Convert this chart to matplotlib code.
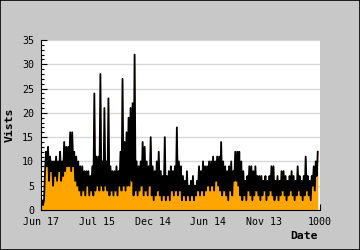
import numpy as np
import matplotlib

matplotlib.use("Agg")

from matplotlib import pyplot
from matplotlib.patches import Rectangle


# Daily visits as (low, high) pairs, about two pixels apart.
visits_early = [
    1, 2, 1, 2, 8, 12, 9, 13, 6, 11, 8, 10, 5, 10, 7, 11, 6, 10, 8, 12,
    6, 10, 7, 14, 8, 13, 9, 13, 9, 16, 8, 16, 9, 12, 6, 11, 5, 10, 4, 9,
    3, 9, 4, 8, 3, 8, 5, 8, 3, 7, 4, 9, 3, 24, 4, 11, 5, 11, 4, 28,
    5, 10, 4, 21, 5, 10, 4, 23, 3, 9, 4, 8, 3, 8, 4, 9, 3, 8, 5, 12,
]
visits_middle = [
    4, 27, 5, 14, 4, 16, 5, 19, 5, 21, 6, 22, 3, 32, 4, 10, 3, 9, 4, 10,
    5, 14, 3, 13, 4, 10, 3, 9, 5, 15, 3, 9, 2, 8, 3, 10, 4, 12, 3, 8,
    2, 7, 3, 15, 2, 7, 3, 8, 2, 9, 4, 8, 3, 9, 4, 17, 3, 10, 4, 9,
    2, 7, 3, 6, 2, 8, 3, 5, 2, 6, 3, 7, 2, 5, 3, 6, 4, 9, 3, 8,
    4, 10, 3, 9, 4, 9, 5, 10, 4, 10, 5, 11, 4, 10, 6, 11, 5, 11, 4, 14,
]
visits_late = [
    3, 10, 4, 9, 3, 8, 2, 9, 4, 10, 3, 8, 6, 12, 6, 12, 5, 12, 3, 10,
    2, 8, 3, 6, 2, 7, 4, 9, 3, 9, 2, 8, 3, 9, 4, 7, 3, 7, 2, 7,
    3, 6, 4, 7, 2, 6, 3, 7, 4, 9, 3, 9, 2, 6, 3, 7, 2, 6, 3, 8,
    4, 8, 3, 7, 2, 6, 3, 7, 4, 8, 3, 7, 2, 6, 3, 9, 4, 7, 3, 6,
    2, 7, 3, 11, 4, 7, 3, 6, 2, 7, 5, 9, 4, 10, 7, 12,
]
visits = np.array(visits_early + visits_middle + visits_late, dtype=float)
last_day = 992

tick_pos = [0, 200, 400, 600, 800, 1000]
tick_labels = ["Jun 17", "Jul 15", "Dec 14", "Jun 14", "Nov 13", "1000"]

days = np.linspace(0, last_day, len(visits))

fig = pyplot.figure(figsize=(3.6, 2.5), dpi=100, facecolor="#c8c8c8")
fig.patches.append(
    Rectangle((0, 0), 1, 1, transform=fig.transFigure, fill=False,
              edgecolor="black", linewidth=1.2)
)
ax = fig.add_axes([41 / 360, 40 / 250, 279 / 360, 170 / 250])
ax.set_facecolor("white")

ax.fill_between(days, visits, 0, color="#ffa500", linewidth=0, zorder=2)
ax.plot(days, visits, color="black", linewidth=1.3, zorder=3)

ax.set_xlim(0, 1000)
ax.set_ylim(0, 35)
ax.set_yticks(np.arange(0, 36, 5))
ax.set_yticks(np.arange(0, 36, 1), minor=True)
ax.set_xticks(tick_pos)
ax.set_xticklabels(tick_labels)
ax.yaxis.grid(True, color="#d9d9d9", linewidth=1.0, zorder=0)
ax.set_axisbelow(True)

for side in ("top", "right"):
    ax.spines[side].set_visible(False)
for side in ("left", "bottom"):
    ax.spines[side].set_linewidth(0.8)
    ax.spines[side].set_zorder(4)

mono = "DejaVu Sans Mono"
ax.tick_params(axis="both", which="major", direction="in", length=4, width=0.8,
               labelsize=7.2, pad=5)
ax.tick_params(axis="y", which="minor", direction="in", length=2.5, width=0.8)
ax.tick_params(axis="x", which="minor", bottom=False)
for lab in ax.get_xticklabels() + ax.get_yticklabels():
    lab.set_family(mono)

ax.set_ylabel("Vists", family=mono, fontweight="bold", fontsize=8.2, labelpad=5)
fig.text(318 / 360, 1 - 236 / 250, "Date", family=mono, fontweight="bold",
         fontsize=8.2, ha="right", va="center")

fig.savefig("out.png", dpi=100, facecolor=fig.get_facecolor())
pyplot.close(fig)
